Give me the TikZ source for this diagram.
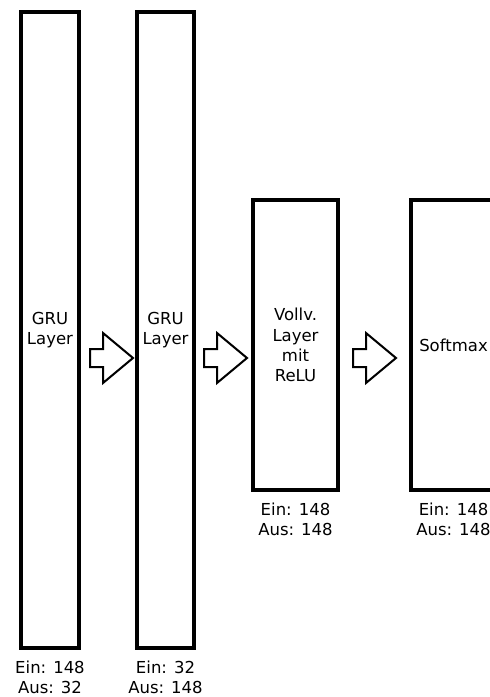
\documentclass[tikz,border=0pt]{standalone}
\usepackage{fontspec}
\setmainfont{DejaVu Sans}
\usetikzlibrary{positioning}
\begin{document}
\begin{tikzpicture}[x=1bp,y=-1bp,
    layer/.style={draw,line width=4bp,inner sep=0pt,align=center,
      font=\fontsize{16.5bp}{20.3bp}\selectfont},
    io/.style={inner sep=0pt,align=center,font=\fontsize{16.5bp}{20bp}\selectfont},
    blockarrow/.style={draw,line width=2bp,miter limit=10}]
    \clip (0,0) rectangle (490,697);
    \node[layer,minimum width=58bp,minimum height=636bp] (gru1) at (50,330) {GRU\\Layer};
    \node[layer,minimum width=57bp,minimum height=636bp] (gru2) at (165.5,330) {GRU\\Layer};
    \node[layer,minimum width=85bp,minimum height=290bp] (dense) at (295.5,345) {Vollv.\\Layer\\mit\\ReLU};
    \node[layer,minimum width=85bp,minimum height=290bp] (soft) at (453.5,345) {Softmax};
    \node[io,below=11bp of gru1] (gru1io) {Ein: 148\\Aus: 32};
    \node[io,below=11bp of gru2] (gru2io) {Ein: 32\\Aus: 148};
    \node[io,below=11bp of dense] (denseio) {Ein: 148\\Aus: 148};
    \node[io,below=11bp of soft] (softio) {Ein: 148\\Aus: 148};
    \coordinate (a1) at (90,349);
    \coordinate (a2) at (204,349);
    \coordinate (a3) at (353,349);
    \draw[blockarrow] (a1) -- ++(13,0) -- ++(0,-16) -- ++(30,25) -- ++(-30,25) -- ++(0,-16) -- ++(-13,0) -- cycle;
    \draw[blockarrow] (a2) -- ++(13,0) -- ++(0,-16) -- ++(30,25) -- ++(-30,25) -- ++(0,-16) -- ++(-13,0) -- cycle;
    \draw[blockarrow] (a3) -- ++(13,0) -- ++(0,-16) -- ++(30,25) -- ++(-30,25) -- ++(0,-16) -- ++(-13,0) -- cycle;
\end{tikzpicture}
\end{document}
